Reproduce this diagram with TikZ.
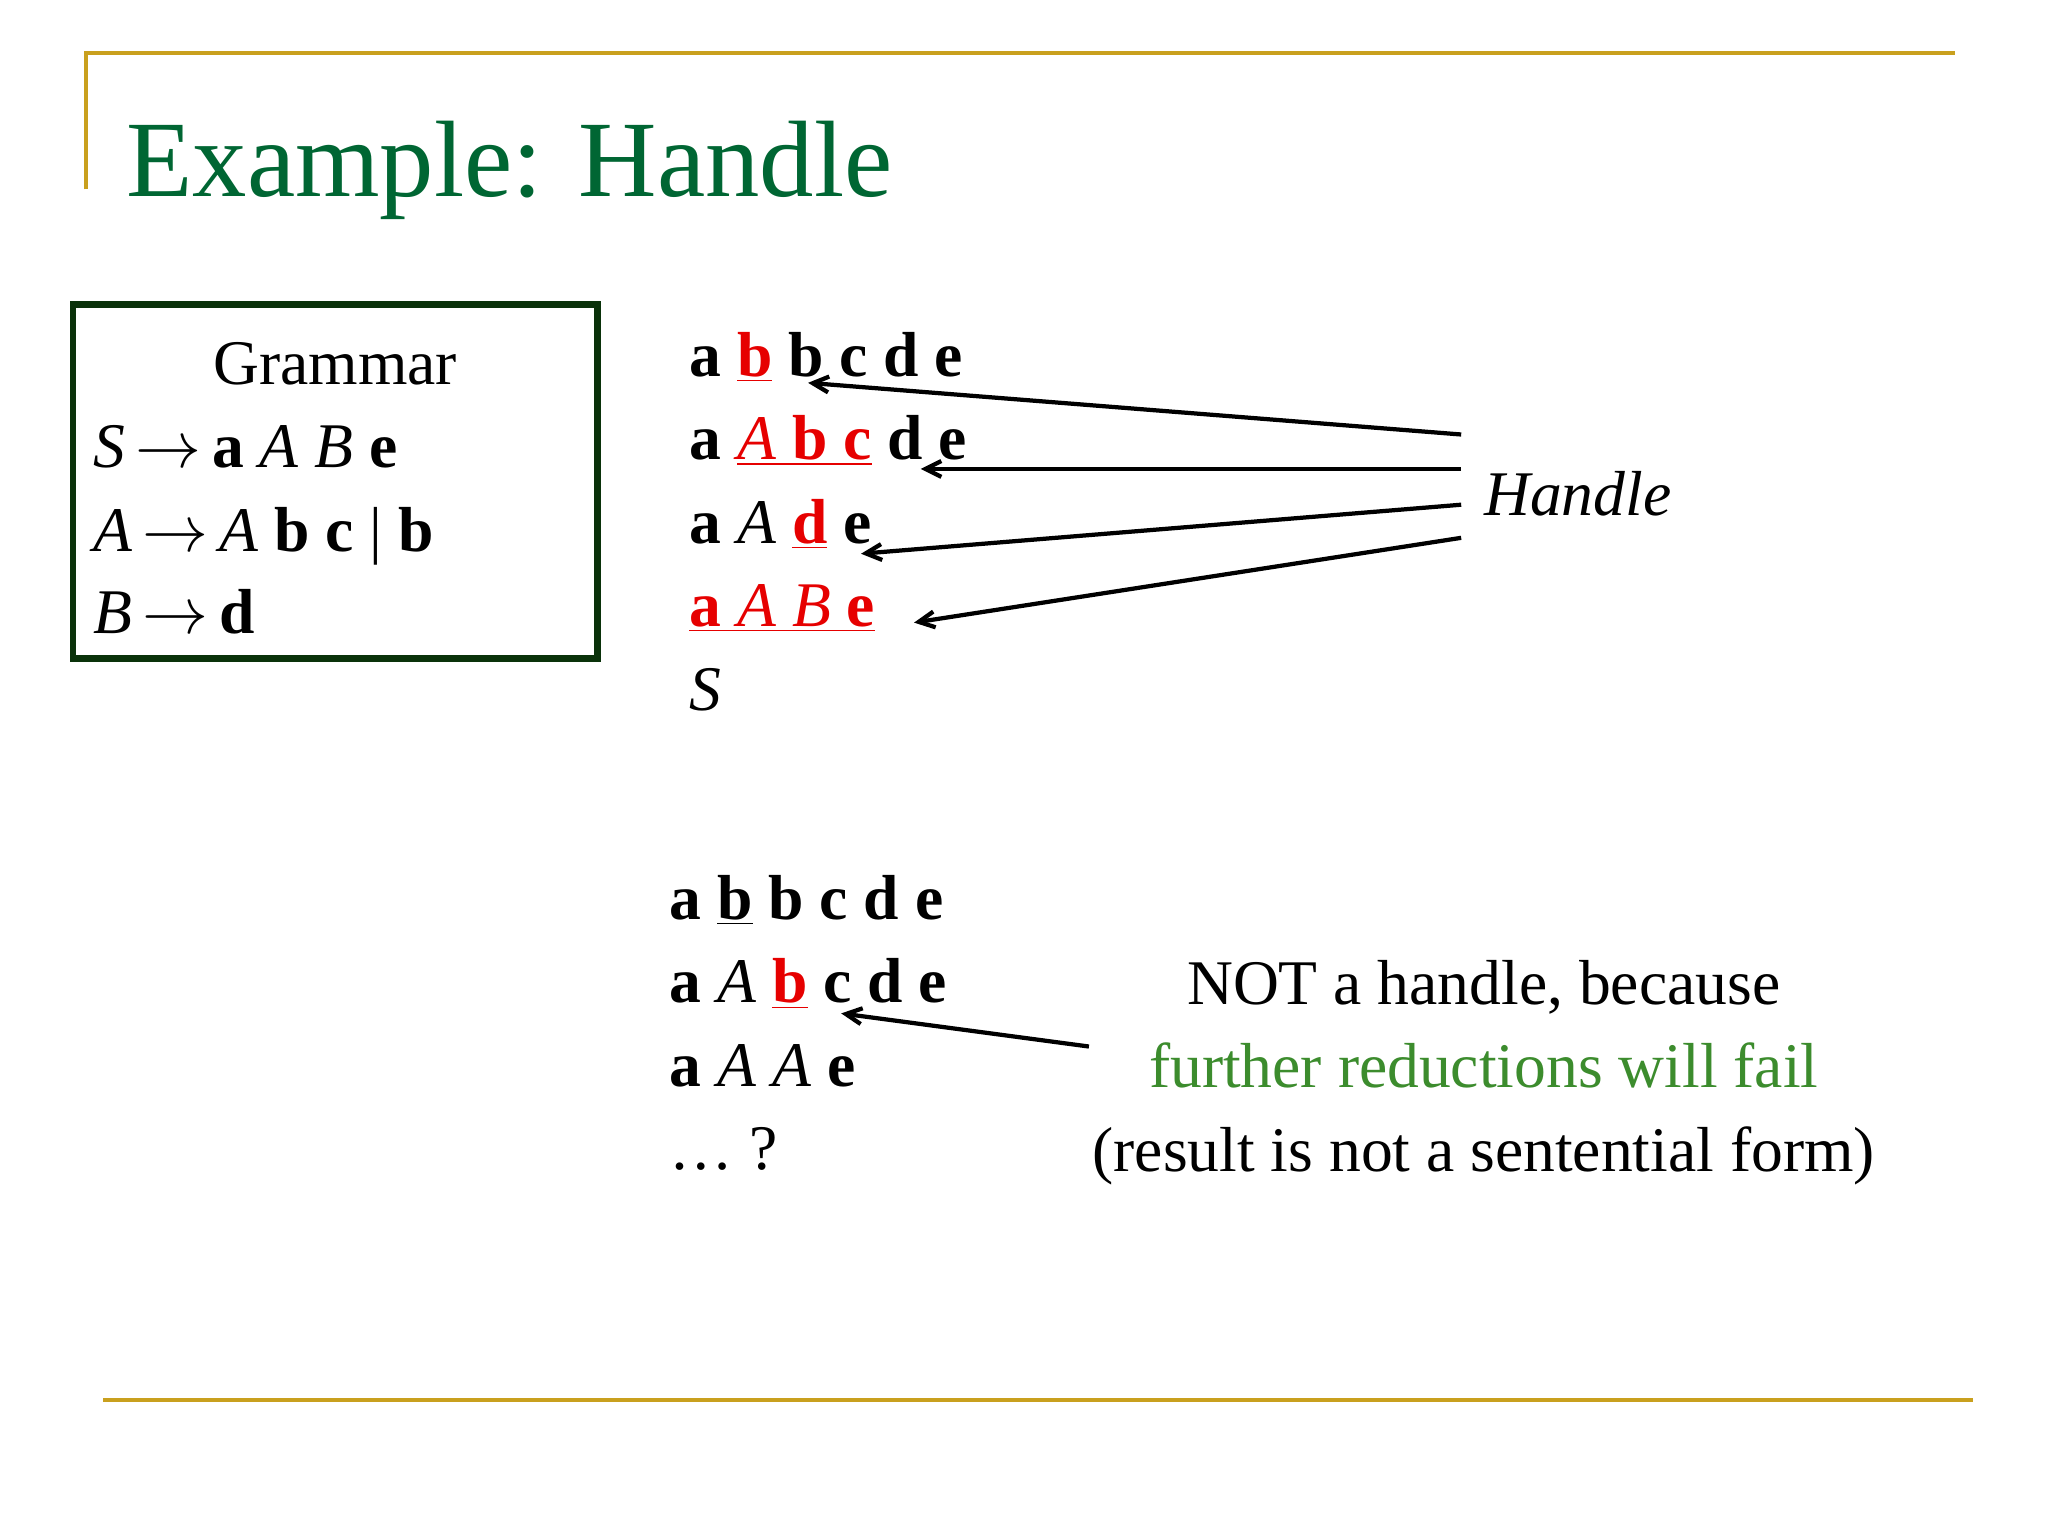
\documentclass[tikz,border=0pt]{standalone}
\usepackage{fontspec}
\setmainfont{Liberation Serif}
\usetikzlibrary{arrows.meta}
\definecolor{gold}{RGB}{201,160,30}
\definecolor{titlegreen}{RGB}{0,102,51}
\definecolor{boxgreen}{RGB}{10,50,10}
\definecolor{fgreen}{RGB}{60,140,45}
\definecolor{hred}{RGB}{230,0,0}
\newcommand{\R}[1]{\textcolor{hred}{#1}}
\tikzset{
  txt/.style={anchor=base west, inner sep=0pt, font=\fontsize{24}{28}\selectfont},
  ctxt/.style={anchor=base, inner sep=0pt, font=\fontsize{24}{28}\selectfont},
  arr/.style={line width=1.6pt, -{Straight Barb[length=6pt,width=6pt]}},
  rule/.style={gold, line width=1.5pt}
}
\begin{document}
\begin{tikzpicture}[x=0.5pt,y=-0.5pt]
\useasboundingbox[fill=white] (0,0) rectangle (1546,1160);
\draw[rule] (65,143) -- (65,40) -- (1476,40);
\draw[rule] (78,1057) -- (1489,1057);
\node[anchor=base west, inner sep=0pt, text=titlegreen, font=\fontsize{41}{48}\selectfont] (title) at (95,148) {Example: Handle};
\draw[boxgreen, line width=2.5pt] (55,230) rectangle (451,497);
\node[ctxt] (gram) at (253,290) {Grammar};
\node[txt] (g1) at (70,353) {\textit{S}\,$\rightarrow$\,\textbf{a} \textit{A} \textit{B} \textbf{e}};
\node[txt] (g2) at (70,416) {\textit{A}\,$\rightarrow$\,\textit{A} \textbf{b c} | \textbf{b}};
\node[txt] (g3) at (70,478) {\textit{B}\,$\rightarrow$\,\textbf{d}};
% derivation
\node[txt] (d1) at (520,284) {\textbf{a} \R{\underline{\textbf{b}}} \textbf{b c d e}};
\node[txt] (d2) at (520,347) {\textbf{a} \R{\underline{\textit{A} \textbf{b c}}} \textbf{d e}};
\node[txt] (d3) at (520,410) {\textbf{a} \textit{A} \R{\underline{\textbf{d}}} \textbf{e}};
\node[txt] (d4) at (520,473) {\R{\underline{\textbf{a} \textit{A} \textit{B} \textbf{e}}}};
\node[txt] (d5) at (520,536) {\textit{S}};
\node[txt] (hl) at (1120,389) {\textit{Handle}};
\coordinate (h1) at (1103,328); \coordinate (t1) at (610,289);
\coordinate (h2) at (1103,354); \coordinate (t2) at (695,354);
\coordinate (h3) at (1103,381); \coordinate (t3) at (650,418);
\coordinate (h4) at (1103,406); \coordinate (t4) at (690,470);
\draw[arr] (h1) -- (t1);
\draw[arr] (h2) -- (t2);
\draw[arr] (h3) -- (t3);
\draw[arr] (h4) -- (t4);
% lower
\node[txt] (l1) at (505,694) {\textbf{a} \underline{\textbf{b}} \textbf{b c d e}};
\node[txt] (l2) at (505,757) {\textbf{a} \textit{A} \R{\underline{\textbf{b}}} \textbf{c d e}};
\node[txt] (l3) at (505,820) {\textbf{a} \textit{A} \textit{A} \textbf{e}};
\node[txt] (l4) at (505,883) {\ldots\ ?};
\node[ctxt] (n1) at (1120,758) {NOT a handle, because};
\node[ctxt, text=fgreen] (n2) at (1120,821) {further reductions will fail};
\node[ctxt] (n3) at (1120,884) {(result is not a sentential form)};
\coordinate (h5) at (822,790); \coordinate (t5) at (635,765);
\draw[arr] (h5) -- (t5);
\end{tikzpicture}
\end{document}
